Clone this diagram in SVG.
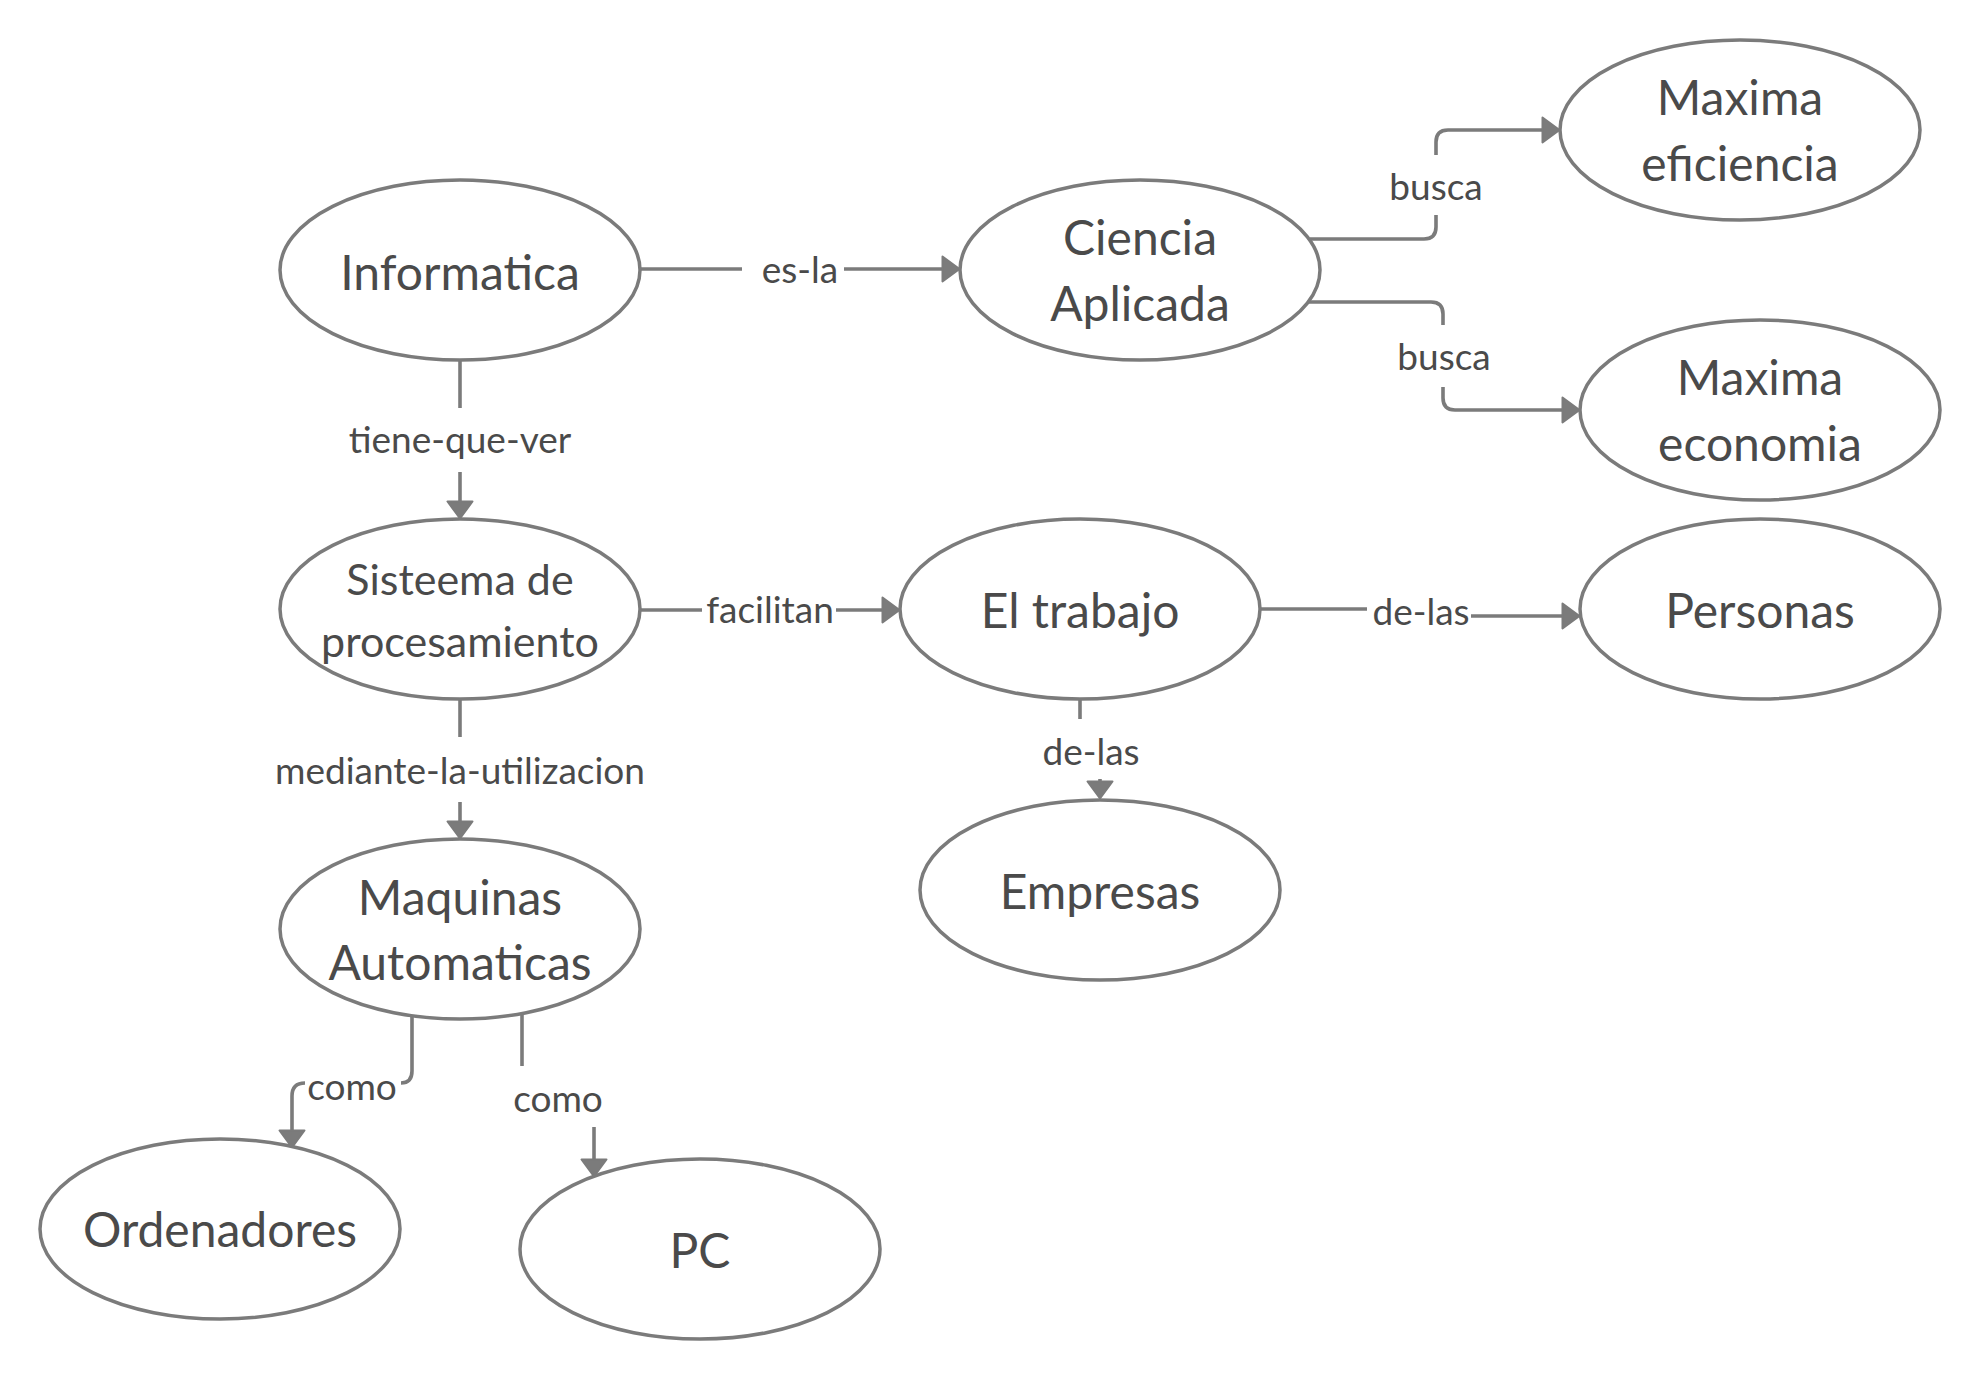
<svg xmlns="http://www.w3.org/2000/svg" width="1980" height="1380" viewBox="0 0 1980 1380">
<defs>
<style>
.node ellipse{fill:#ffffff;stroke:#7b7b7b;stroke-width:3.5}
.node text{font-family:Lato,"Noto Sans",sans-serif;font-size:48px;fill:#4a4a4a;text-anchor:middle}
.node text.sm{font-size:43px}
.edge path{fill:none;stroke:#7b7b7b;stroke-width:3.6}
.lbl{font-family:Lato,"Noto Sans",sans-serif;font-size:37px;fill:#4a4a4a;text-anchor:middle}
</style>
<marker id="arr" markerWidth="22" markerHeight="30" refX="9" refY="14" orient="auto" markerUnits="userSpaceOnUse">
<path d="M1.5,1.5 L18.5,14 L1.5,26.5 z" fill="#7b7b7b" stroke="#7b7b7b" stroke-width="2" stroke-linejoin="round"/>
</marker>
</defs>
<rect width="1980" height="1380" fill="#ffffff"/>
<g id="connectors" class="edge">
<path d="M640 269 H742"/><path d="M844 269 H950" marker-end="url(#arr)"/>
<path d="M1310 239 H1424 Q1436 239 1436 227 V215"/><path d="M1436 155 V142 Q1436 130 1448 130 H1550" marker-end="url(#arr)"/>
<path d="M1309 302 H1431 Q1443 302 1443 314 V325"/><path d="M1443 387 V398 Q1443 410 1455 410 H1570" marker-end="url(#arr)"/>
<path d="M460 360 V408"/><path d="M460 472 V509" marker-end="url(#arr)"/>
<path d="M640 610 H702"/><path d="M836 610 H890" marker-end="url(#arr)"/>
<path d="M1260 609 H1367"/><path d="M1471 616 H1570" marker-end="url(#arr)"/>
<path d="M1080 699 V719"/><path d="M1100 779 V789" marker-end="url(#arr)"/>
<path d="M460 699 V737"/><path d="M460 802 V829" marker-end="url(#arr)"/>
<path d="M412 1015 V1071 Q412 1083 401 1083"/><path d="M305 1083 Q292 1083 292 1096 V1138" marker-end="url(#arr)"/>
<path d="M522 1013 V1066"/><path d="M594 1127 V1167" marker-end="url(#arr)"/>
<text class="lbl" x="800" y="283">es-la</text>
<text class="lbl" x="1436" y="200">busca</text>
<text class="lbl" x="1444" y="370">busca</text>
<text class="lbl" x="460" y="453">tiene-que-ver</text>
<text class="lbl" x="770" y="623">facilitan</text>
<text class="lbl" x="1421" y="625">de-las</text>
<text class="lbl" x="1091" y="765">de-las</text>
<text class="lbl" x="460" y="784">mediante-la-utilizacion</text>
<text class="lbl" x="352" y="1100">como</text>
<text class="lbl" x="558" y="1112">como</text>
</g>
<g id="n-informatica" class="node"><ellipse cx="460" cy="270" rx="180" ry="90"/><text x="460" y="290">Informatica</text></g>
<g id="n-ciencia" class="node"><ellipse cx="1140" cy="270" rx="180" ry="90"/><text x="1140" y="255">Ciencia</text><text x="1140" y="321">Aplicada</text></g>
<g id="n-eficiencia" class="node"><ellipse cx="1740" cy="130" rx="180" ry="90"/><text x="1740" y="115">Maxima</text><text x="1740" y="181">eficiencia</text></g>
<g id="n-economia" class="node"><ellipse cx="1760" cy="410" rx="180" ry="90"/><text x="1760" y="395">Maxima</text><text x="1760" y="461">economia</text></g>
<g id="n-sistema" class="node"><ellipse cx="460" cy="609" rx="180" ry="90"/><text class="sm" x="460" y="595">Sisteema de</text><text class="sm" x="460" y="657">procesamiento</text></g>
<g id="n-trabajo" class="node"><ellipse cx="1080" cy="609" rx="180" ry="90"/><text x="1080" y="628">El trabajo</text></g>
<g id="n-personas" class="node"><ellipse cx="1760" cy="609" rx="180" ry="90"/><text x="1760" y="628">Personas</text></g>
<g id="n-empresas" class="node"><ellipse cx="1100" cy="890" rx="180" ry="90"/><text x="1100" y="909">Empresas</text></g>
<g id="n-maquinas" class="node"><ellipse cx="460" cy="929" rx="180" ry="90"/><text x="460" y="915">Maquinas</text><text x="460" y="980">Automaticas</text></g>
<g id="n-ordenadores" class="node"><ellipse cx="220" cy="1229" rx="180" ry="90"/><text x="220" y="1247">Ordenadores</text></g>
<g id="n-pc" class="node"><ellipse cx="700" cy="1249" rx="180" ry="90"/><text x="700" y="1268">PC</text></g>
</svg>
